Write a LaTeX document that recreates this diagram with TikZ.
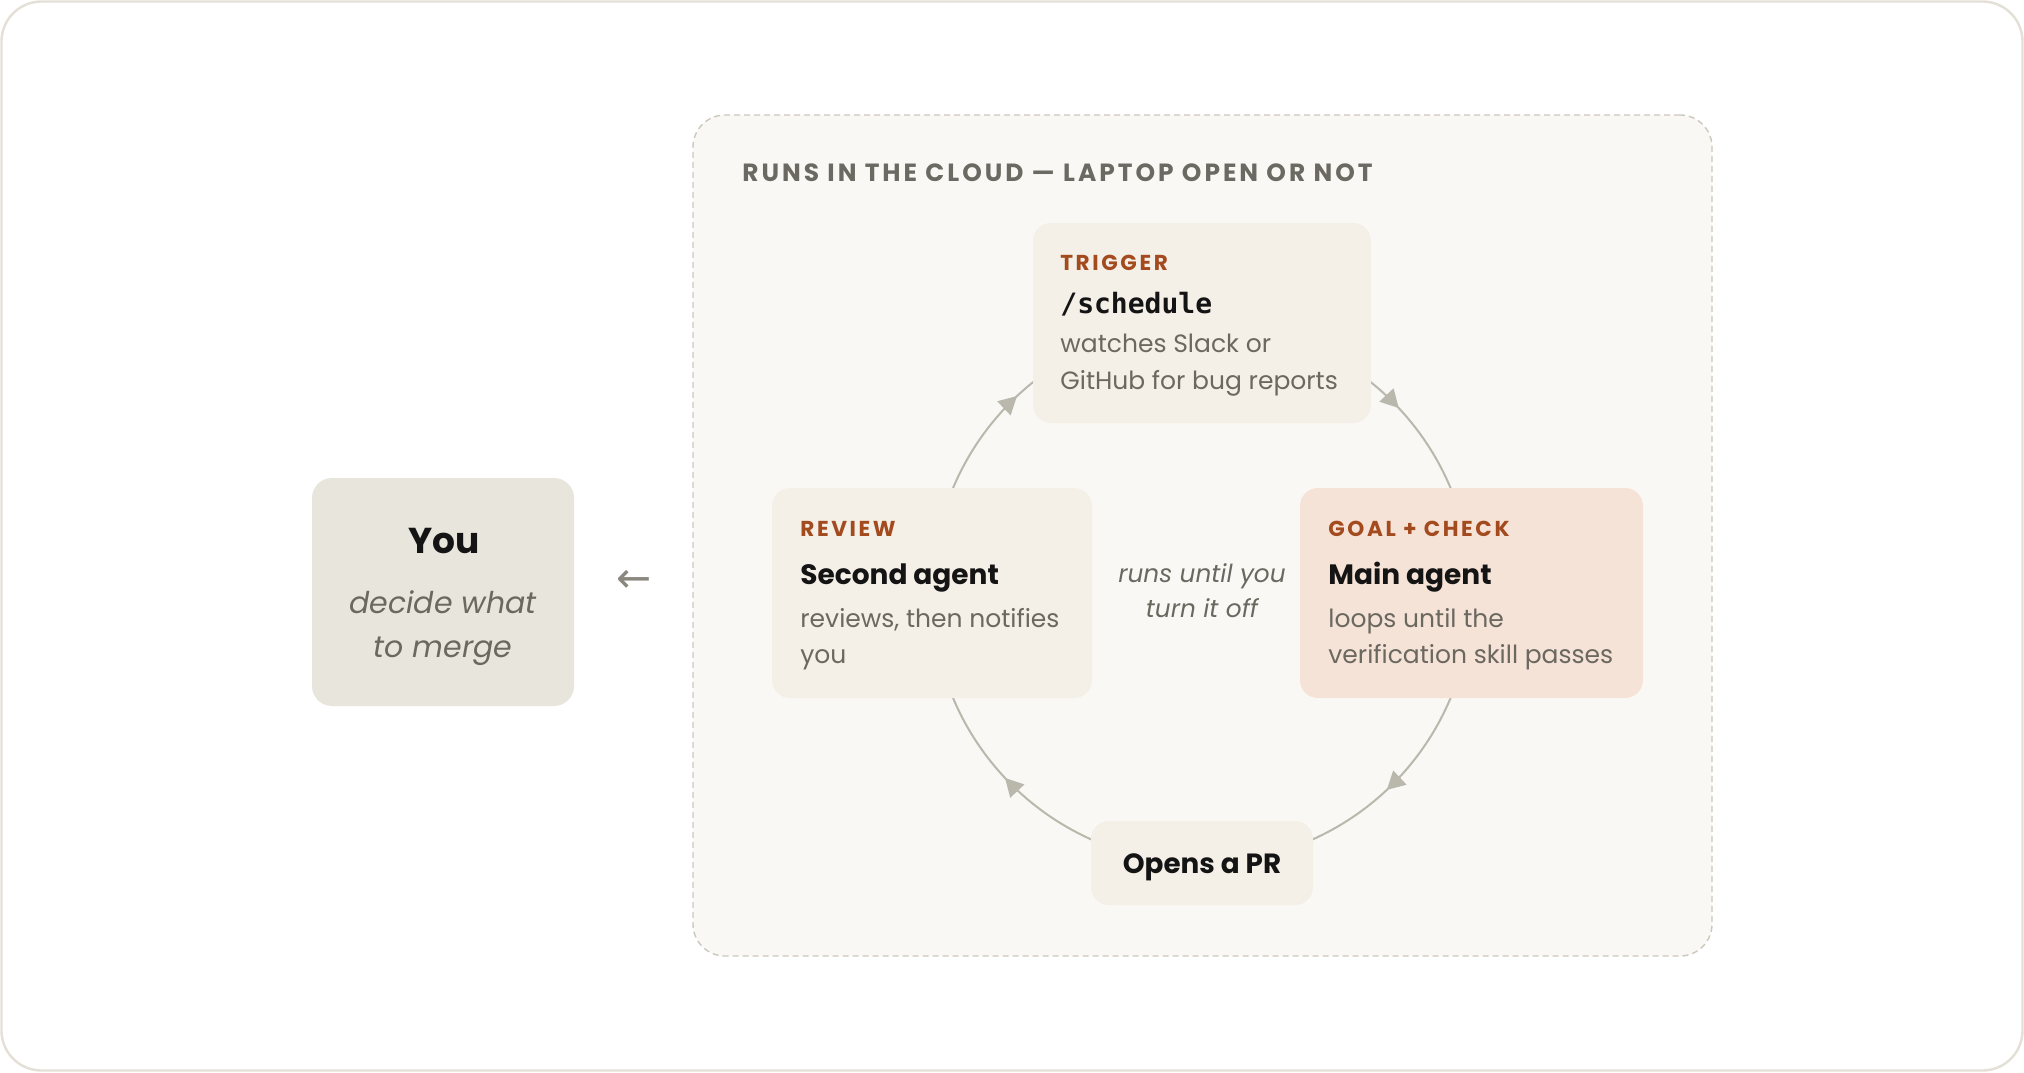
\documentclass[tikz,border=0pt]{standalone}
\usepackage{fontspec}
\setmainfont{Poppins}
\newfontfamily\codefont{DejaVu Sans Mono}
\newfontfamily\symfont{DejaVu Sans}
\usetikzlibrary{arrows.meta,decorations.markings}
\pgfdeclarelayer{bglayer}
\pgfdeclarelayer{arclayer}
\pgfsetlayers{bglayer,arclayer,main}
\definecolor{framecol}{HTML}{E4E0D7}
\definecolor{cloudfill}{HTML}{FAF8F4}
\definecolor{clouddash}{HTML}{CDC8BE}
\definecolor{boxfill}{HTML}{F4EFE7}
\definecolor{goalfill}{HTML}{F6E3D7}
\definecolor{youfill}{HTML}{E8E5DC}
\definecolor{rust}{HTML}{A34A1E}
\definecolor{titlegray}{HTML}{6B6961}
\definecolor{bodygray}{HTML}{6B6860}
\definecolor{darktext}{HTML}{141414}
\definecolor{arccol}{HTML}{BAB7AC}
\definecolor{arrowgray}{HTML}{8A877E}
\tikzset{
  panel/.style={rectangle, rounded corners=9pt, inner sep=0pt, draw=none, fill=boxfill},
  kicker/.style={anchor=mid west, inner sep=0pt, text=rust,
    font={\fontsize{10.8}{12}\selectfont\bfseries\addfontfeature{LetterSpace=12}}},
  headline/.style={anchor=mid west, inner sep=0pt, text=darktext,
    font={\fontsize{14}{16}\selectfont\bfseries}},
  bodyline/.style={anchor=mid west, inner sep=0pt, text=bodygray,
    font={\fontsize{12.5}{14}\selectfont}},
  midnote/.style={anchor=mid, inner sep=0pt, text=bodygray,
    font={\fontsize{12.4}{14}\selectfont\itshape}},
  youline/.style={anchor=mid, inner sep=0pt, text=bodygray,
    font={\fontsize{15}{17}\selectfont\itshape}},
  looparc/.style={draw=arccol, line width=1pt, postaction={decorate},
    decoration={markings, mark=at position 0.52 with {\arrow{Triangle[length=9pt,width=9.5pt]}}},
    arccol},
}
\begin{document}
\begin{tikzpicture}[x=0.5pt,y=-0.5pt]
\useasboundingbox (0,0) rectangle (2024,1072);
\begin{pgfonlayer}{bglayer}
  \draw[framecol, line width=1.2pt, rounded corners=20pt, fill=white] (1.5,1.5) rectangle (2022.5,1070.5);
  \node[rectangle, rounded corners=16pt, minimum width=509.5pt, minimum height=420.5pt,
        fill=cloudfill, draw=clouddash, line width=0.7pt, dash pattern=on 3pt off 2pt, inner sep=0pt]
        (cloud) at (1202.5,535.5) {};
\end{pgfonlayer}

\node[anchor=mid west, inner sep=0pt, text=titlegray,
      font={\fontsize{12.45}{14}\selectfont\bfseries\addfontfeature{LetterSpace=12}}]
      (title) at (742,176) {RUNS IN THE CLOUD — LAPTOP OPEN OR NOT};

% boxes
\node[panel, minimum width=169pt, minimum height=100pt] (trigger) at (1202,323) {};
\node[panel, minimum width=160pt, minimum height=105pt] (review) at (932,593) {};
\node[panel, fill=goalfill, minimum width=171.5pt, minimum height=105pt] (goal) at (1471.5,593) {};
\node[panel, minimum width=111pt, minimum height=42pt] (pr) at (1202,863) {};
\node[panel, fill=youfill, rounded corners=10pt, minimum width=131pt, minimum height=114pt] (you) at (443,592) {};

% trigger text
\node[kicker] (trigK) at (1060,265) {TRIGGER};
\node[anchor=mid west, inner sep=0pt, text=darktext, font={\fontsize{14}{16}\selectfont\codefont\bfseries}] (trigH) at (1060,308) {/schedule};
\node[bodyline] (trigB1) at (1060,347) {watches Slack or};
\node[bodyline] (trigB2) at (1060,384) {GitHub for bug reports};

% review text
\node[kicker] (revK) at (800,531) {REVIEW};
\node[headline] (revH) at (800,579) {Second agent};
\node[bodyline] (revB1) at (800,622) {reviews, then notifies};
\node[bodyline] (revB2) at (800,658) {you};

% goal text
\node[kicker] (goalK) at (1328,531) {GOAL + CHECK};
\node[headline] (goalH) at (1328,579) {Main agent};
\node[bodyline] (goalB1) at (1328,622) {loops until the};
\node[bodyline] (goalB2) at (1328,658) {verification skill passes};

% PR text
\node[anchor=mid, inner sep=0pt, text=darktext, font={\fontsize{13.9}{16}\selectfont\bfseries}] (prT) at (1202,868) {Opens a PR};

% center note
\node[midnote] (note1) at (1202,577) {runs until you};
\node[midnote] (note2) at (1202,612) {turn it off};

% you text
\node[anchor=mid, inner sep=0pt, text=darktext, font={\fontsize{18}{20}\selectfont\bfseries}] (youH) at (444,548) {You};
\node[youline] (youB1) at (443,608) {decide what};
\node[youline] (youB2) at (443,652) {to merge};

% back arrow glyph
\node[anchor=center, inner sep=0pt, text=arrowgray, font={\fontsize{21}{21}\selectfont\symfont}] (back) at (634,581) {←};

% loop arcs
\begin{pgfonlayer}{arclayer}
  \draw[looparc] (review.center) to[bend left=45] (trigger.center);
  \draw[looparc] (trigger.center) to[bend left=45] (goal.center);
  \draw[looparc] (goal.center) to[bend left=45] (pr.center);
  \draw[looparc] (pr.center) to[bend left=45] (review.center);
\end{pgfonlayer}
\end{tikzpicture}
\end{document}
